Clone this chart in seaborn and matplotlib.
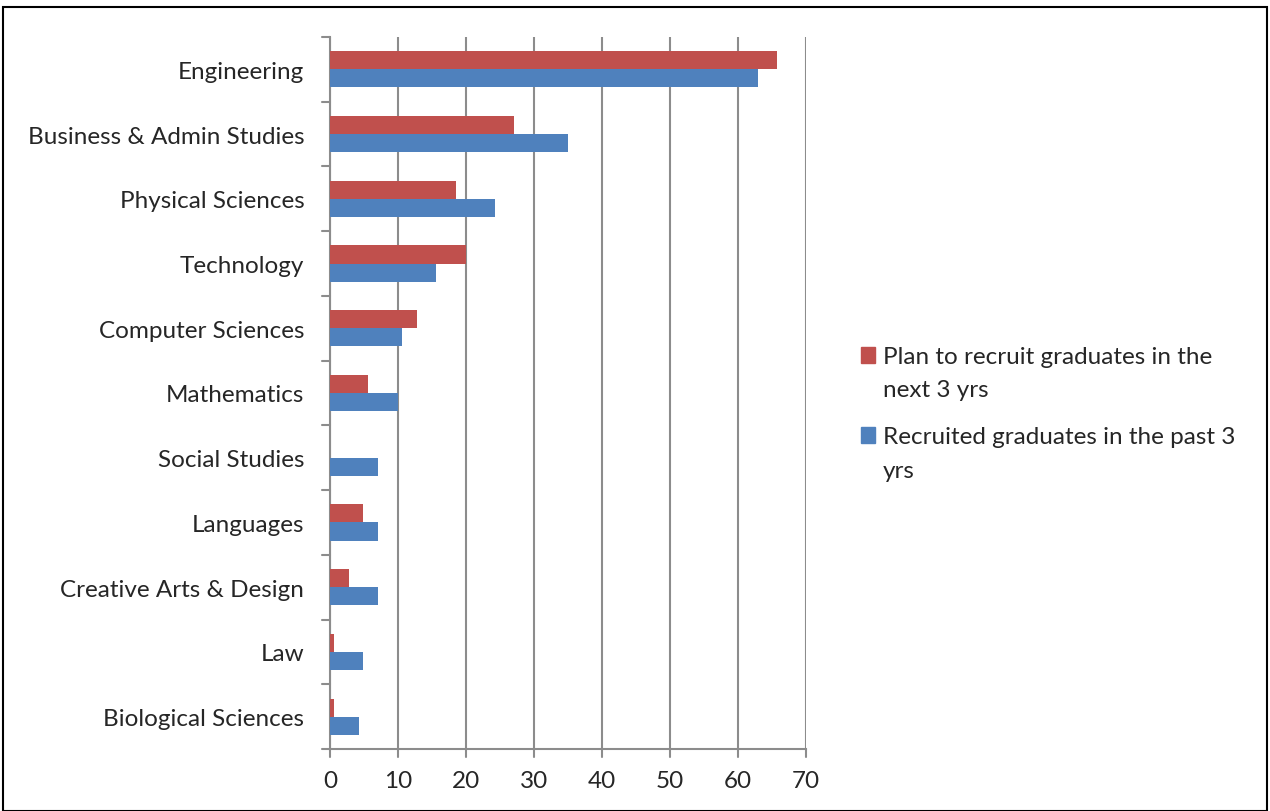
import matplotlib
matplotlib.use("Agg")
import matplotlib.pyplot as plt
import matplotlib.patches as mpatches
from matplotlib.legend_handler import HandlerPatch
import seaborn as sns
import pandas as pd

categories = ["Engineering", "Business & Admin Studies", "Physical Sciences", "Technology",
              "Computer Sciences", "Mathematics", "Social Studies", "Languages",
              "Creative Arts & Design", "Law", "Biological Sciences"]
plan_next = [65.8, 27.1, 18.5, 20.0, 12.8, 5.6, 0.0, 4.9, 2.8, 0.6, 0.6]
recruited_past = [63.0, 35.0, 24.3, 15.6, 10.6, 10.0, 7.1, 7.1, 7.1, 4.9, 4.2]
series_names = ["Plan to recruit graduates in the\nnext 3 yrs",
                "Recruited graduates in the past 3\nyrs"]
x_ticks = [0, 10, 20, 30, 40, 50, 60, 70]

df = pd.DataFrame({
    "category": categories * 2,
    "value": plan_next + recruited_past,
    "series": [series_names[0]] * len(categories) + [series_names[1]] * len(categories),
})

sns.set_style("white")
plt.rcParams["font.family"] = ["Lato", "DejaVu Sans"]
FS = 17.5

fig = plt.figure(figsize=(12.7, 8.12), dpi=100)
ax = fig.add_axes([330 / 1270, 1 - 750 / 812, 476 / 1270, 712 / 812])

palette = {series_names[0]: "#C0504D", series_names[1]: "#4F81BD"}
sns.barplot(data=df, x="value", y="category", hue="series", order=categories,
            hue_order=series_names, palette=palette, orient="h", width=0.56,
            saturation=1, ax=ax, edgecolor="none", zorder=3)

ax.set_xlim(0, 70)
ax.set_ylim(len(categories) - 0.5, -0.5)
ax.set_xticks(x_ticks)
ax.set_xticklabels([str(t) for t in x_ticks], fontsize=FS)
ax.set_xlabel("")
ax.set_ylabel("")
ax.tick_params(axis="y", length=0, labelsize=FS, pad=18.5)
ax.tick_params(axis="x", length=0, pad=15)

# Vertical gridlines
ax.grid(axis="x", color="#8c8c8c", linewidth=1.5, zorder=0)
ax.grid(axis="y", visible=False)
for side in ["top", "right"]:
    ax.spines[side].set_visible(False)
for side in ["left", "bottom"]:
    ax.spines[side].set_color("#8c8c8c")
    ax.spines[side].set_linewidth(1.5)

# Category separator ticks on the left spine and tick marks below the x-axis
for b in [i - 0.5 for i in range(len(categories) + 1)]:
    ax.plot([-1.2, 0], [b, b], color="#8c8c8c", lw=1.5, clip_on=False, zorder=4)
for t in x_ticks:
    ax.plot([t, t], [len(categories) - 0.5, len(categories) - 0.5 + 0.13],
            color="#8c8c8c", lw=1.5, clip_on=False, zorder=4)


def top_aligned_square(legend, orig_handle, xdescent, ydescent, width, height, fontsize):
    # Square key placed level with the first line of a two-line label
    return mpatches.Rectangle((-xdescent, -ydescent + 13), width, height)


handles = [mpatches.Patch(color=palette[s], label=s) for s in series_names]
leg = ax.legend(handles=handles, loc="center left", bbox_to_anchor=(839 / 1270, 0.49),
                bbox_transform=fig.transFigure, frameon=False, fontsize=FS,
                handlelength=0.6, handleheight=0.6, handletextpad=0.3, labelspacing=1.05,
                handler_map={mpatches.Patch: HandlerPatch(patch_func=top_aligned_square)})
for txt in leg.get_texts():
    txt.set_linespacing(1.75)

# Outer frame
fig.patches.append(mpatches.Rectangle((3 / 1270, 0), 1264 / 1270, 1 - 8 / 812,
                                      transform=fig.transFigure, fill=False,
                                      edgecolor="black", linewidth=1.5))

fig.savefig("out.png", dpi=100)
